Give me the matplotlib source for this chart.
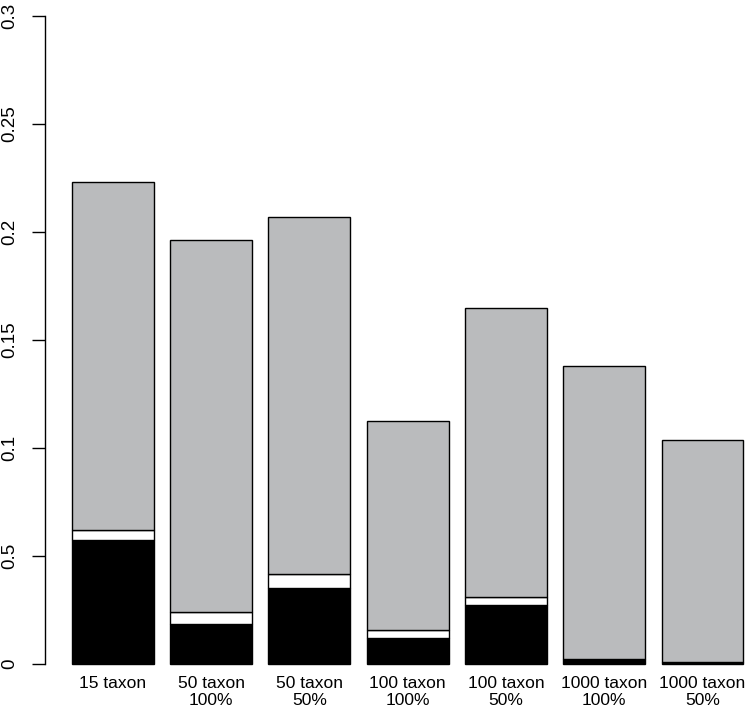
import matplotlib
matplotlib.use("Agg")
import matplotlib.pyplot as plt
import numpy as np

plt.rcParams['font.family'] = ['Liberation Sans', 'DejaVu Sans']

# data (stacked: black, white, gray)
groups = ["15 taxon", "50 taxon\n100%", "50 taxon\n50%", "100 taxon\n100%",
          "100 taxon\n50%", "1000 taxon\n100%", "1000 taxon\n50%"]
black_part = [0.0573, 0.0184, 0.0350, 0.0122, 0.0275, 0.0024, 0.0010]
white_part = [0.0048, 0.0056, 0.0066, 0.0034, 0.0033, 0.0000, 0.0000]
gray_part = [0.1609, 0.1725, 0.1655, 0.0967, 0.1339, 0.1355, 0.1028]
yticks = [0, 0.05, 0.1, 0.15, 0.2, 0.25, 0.3]
ytick_labels = ["0", "0.5", "0.1", "0.15", "0.2", "0.25", "0.3"]

W, H = 748, 711
unit = 81.9  # px per bar unit
fig = plt.figure(figsize=(W / 100, H / 100), dpi=100)
# R-style barplot: width 1, space 0.2, x range extended by 4%
ax = fig.add_axes([45 / W, (H - 664) / H, 8.856 * unit / W, 648 / H])

x = 0.7 + 1.2 * np.arange(len(groups))
black_part = np.array(black_part)
white_part = np.array(white_part)
gray_part = np.array(gray_part)

kw = dict(width=1.0, edgecolor="black", linewidth=1.0, clip_on=False)
ax.bar(x, black_part, color="black", **kw)
ax.bar(x, white_part, bottom=black_part, color="white", **kw)
ax.bar(x, gray_part, bottom=black_part + white_part, color="#babbbd", **kw)

ax.set_xlim(-0.128, 8.728)
ax.set_ylim(0, 0.3)

for s in ["top", "right", "bottom"]:
    ax.spines[s].set_visible(False)
ax.spines["left"].set_linewidth(1.0)

ax.set_yticks(yticks)
ax.set_yticklabels(ytick_labels, rotation=90, va="center", fontsize=13.5)
ax.tick_params(axis="y", length=9.4, width=1.0, pad=10)

ax.set_xticks(x)
ax.set_xticklabels(groups, fontsize=12.5, linespacing=1.15)
ax.tick_params(axis="x", length=0, pad=9)

fig.savefig("out.png", dpi=100)
